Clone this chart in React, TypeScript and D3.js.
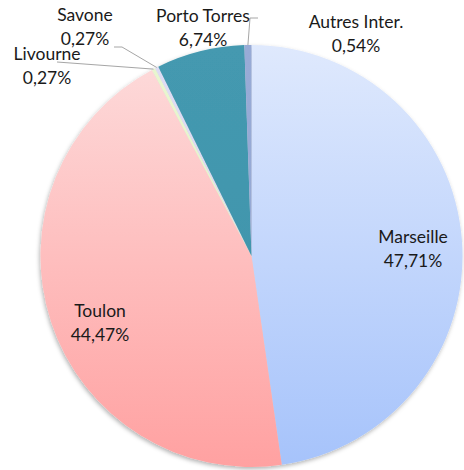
import React from 'react';
import * as d3 from 'd3';

const categories = ['Marseille', 'Toulon', 'Livourne', 'Savone', 'Porto Torres', 'Autres Inter.'];
const shares = [47.71, 44.47, 0.27, 0.27, 6.74, 0.54];

// fill per slice: [top, bottom] of a vertical gradient
const fills: [string, string][] = [
  ['#dfe9fd', '#a6c3fb'],
  ['#fddcdc', '#ffa1a1'],
  ['#e9f6d0', '#e3f2c6'],
  ['#dedcf4', '#d8d6f0'],
  ['#4499b0', '#3f93aa'],
  ['#98abd6', '#93a6d2'],
];

// label anchors (centre x, first baseline)
const labelPos: [number, number][] = [
  [413, 243],
  [100, 317],
  [47, 60],
  [85, 21],
  [203, 22],
  [356, 28],
];

const W = 464;
const H = 470;
const cx = 251.5;
const cy = 256;
const R = 211;

const fmt = (v: number) => v.toFixed(2).replace('.', ',') + '%';

function App() {
  const pie = d3.pie<number>().sort(null).value((d) => d);
  const arcs = pie(shares);
  const arc = d3.arc<d3.PieArcDatum<number>>().innerRadius(0).outerRadius(R);

  const edge = (a: number): [number, number] => [cx + R * Math.sin(a), cy - R * Math.cos(a)];

  // leader lines: label side points, then the slice edge
  const pLiv = edge((arcs[2].startAngle + arcs[2].endAngle) / 2);
  const pSav = edge((arcs[3].startAngle + arcs[3].endAngle) / 2);
  const pAut = edge((arcs[5].startAngle + arcs[5].endAngle) / 2);
  const leaders: [number, number][][] = [
    [[57, 62], pLiv],
    [[114, 47], [122, 47], pSav],
    [[258, 18], [250, 18], pAut],
  ];
  const line = d3.line();

  return (
    <svg width={W} height={H} style={{ position: 'absolute', left: 0, top: 0 }}
      fontFamily="Lato, 'Open Sans', sans-serif">
      <defs>
        {/* gradients live in the pie group's space, centred on 0,0 */}
        {fills.map((f, i) => (
          <linearGradient key={i} id={'g' + i} gradientUnits="userSpaceOnUse"
            x1={0} y1={-R} x2={0} y2={R}>
            <stop offset="0" stopColor={f[0]} />
            <stop offset="1" stopColor={f[1]} />
          </linearGradient>
        ))}
        <filter id="shadow" x="-10%" y="-10%" width="120%" height="120%">
          <feDropShadow dx={-1} dy={2} stdDeviation={2} floodColor="#000" floodOpacity={0.3} />
        </filter>
      </defs>
      <g transform={`translate(${cx},${cy})`} filter="url(#shadow)">
        {arcs.map((a, i) => (
          <path key={i} d={arc(a) || ''} fill={`url(#g${i})`} />
        ))}
      </g>
      {leaders.map((pts, i) => (
        <path key={i} d={line(pts) || ''} fill="none" stroke="#a6a6a6" strokeWidth={1} />
      ))}
      {categories.map((c, i) => (
        <text key={c} x={labelPos[i][0]} y={labelPos[i][1]} textAnchor="middle"
          fontSize={17.5} fill="#1a1a1a">
          <tspan x={labelPos[i][0]}>{c}</tspan>
          <tspan x={labelPos[i][0]} dy={24}>{fmt(shares[i])}</tspan>
        </text>
      ))}
    </svg>
  );
}

export default App;
